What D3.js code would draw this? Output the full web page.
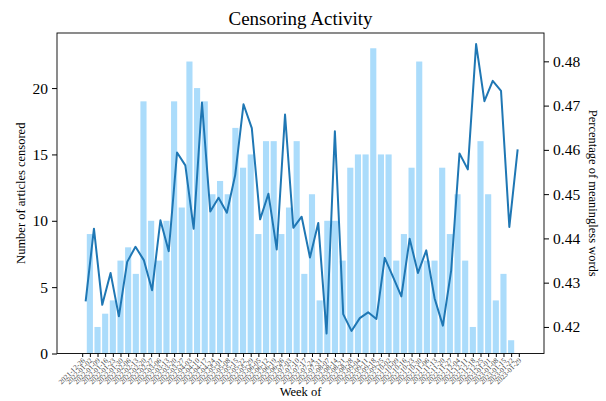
<!DOCTYPE html>
<html>
<head>
<meta charset="utf-8">
<script src="https://cdn.jsdelivr.net/npm/d3@7"></script>
<style>
  html, body { margin: 0; padding: 0; background: #fff; }
  svg { display: block; font-family: "Liberation Serif", "Times New Roman", serif; }
</style>
</head>
<body>
<svg id="chart" width="606" height="401"></svg>
<script>
// ---- data ----
const weeks = [
  "2021-12-26","2022-01-02","2022-01-09","2022-01-16","2022-01-23","2022-01-30",
  "2022-02-06","2022-02-13","2022-02-20","2022-02-27","2022-03-06","2022-03-13",
  "2022-03-20","2022-03-27","2022-04-03","2022-04-10","2022-04-17","2022-04-24",
  "2022-05-01","2022-05-08","2022-05-15","2022-05-22","2022-05-29","2022-06-05",
  "2022-06-12","2022-06-19","2022-06-26","2022-07-03","2022-07-10","2022-07-17",
  "2022-07-24","2022-07-31","2022-08-07","2022-08-14","2022-08-21","2022-08-28",
  "2022-09-04","2022-09-11","2022-09-18","2022-09-25","2022-10-02","2022-10-09",
  "2022-10-16","2022-10-23","2022-10-30","2022-11-06","2022-11-13","2022-11-20",
  "2022-11-27","2022-12-04","2022-12-11","2022-12-18","2022-12-25","2023-01-01",
  "2023-01-08","2023-01-15","2023-01-22","2023-01-29"
];
const censoredCounts = [
  0, 9, 2, 3, 4, 7, 8, 6, 19, 10, 7, 10, 19, 11, 22, 20, 19, 12, 13, 12,
  17, 14, 15, 9, 16, 16, 9, 11, 16, 6, 12, 4, 10, 10, 7, 14, 15, 15, 23, 15,
  15, 7, 9, 14, 22, 7, 7, 14, 9, 12, 7, 2, 16, 12, 4, 6, 1, 0
];
const meaninglessShare = [
  0.4258, 0.4422, 0.4250, 0.4322, 0.4224, 0.4347, 0.4381, 0.4351, 0.4283, 0.4441,
  0.4371, 0.4594, 0.4565, 0.4422, 0.4707, 0.4461, 0.4492, 0.4458, 0.4543, 0.4703,
  0.4649, 0.4443, 0.4501, 0.4375, 0.4680, 0.4424, 0.4449, 0.4357, 0.4435, 0.4185,
  0.4642, 0.4229, 0.4191, 0.4220, 0.4233, 0.4218, 0.4356, 0.4313, 0.4269, 0.4399,
  0.4322, 0.4373, 0.4265, 0.4203, 0.4328, 0.4592, 0.4556, 0.4839, 0.4710, 0.4756,
  0.4733, 0.4426, 0.4601
];
const leftTicks = [0, 5, 10, 15, 20];
const rightTicks = [0.42, 0.43, 0.44, 0.45, 0.46, 0.47, 0.48];

// ---- layout ----
const W = 606, H = 401;
const plot = { left: 57, right: 544, top: 33, bottom: 353.5 };
const svg = d3.select("#chart");

const n = weeks.length;
const pad = (n - 1 + 0.8) * 0.05;
const x = d3.scaleLinear()
  .domain([-0.4 - pad, n - 1 + 0.4 + pad])
  .range([plot.left, plot.right]);
const barW = x(0.8) - x(0);

const yL = d3.scaleLinear().domain([0, 23 * 1.05]).range([plot.bottom, plot.top]);
const yR = d3.scaleLinear().domain([0.4140, 0.4864]).range([plot.bottom, plot.top]);

const xLine = d3.scaleLinear()
  .domain([0, meaninglessShare.length - 1])
  .range([x(0.45), x(56.85)]);

// bars
svg.append("g").selectAll("rect")
  .data(censoredCounts)
  .join("rect")
  .attr("x", (d, i) => x(i) - barW / 2)
  .attr("width", barW)
  .attr("y", d => yL(d))
  .attr("height", d => yL(0) - yL(d))
  .attr("fill", "#abdcfb");

// line
svg.append("path")
  .datum(meaninglessShare)
  .attr("fill", "none")
  .attr("stroke", "#1f77b4")
  .attr("stroke-width", 2)
  .attr("stroke-linejoin", "round")
  .attr("d", d3.line().x((d, i) => xLine(i)).y(d => yR(d)));

// frame
svg.append("rect")
  .attr("x", plot.left).attr("y", plot.top)
  .attr("width", plot.right - plot.left).attr("height", plot.bottom - plot.top)
  .attr("fill", "none").attr("stroke", "#000").attr("stroke-width", 0.9);

// left axis
const gL = svg.append("g").attr("transform", `translate(${plot.left},0)`)
  .call(d3.axisLeft(yL).tickValues(leftTicks).tickSize(5).tickPadding(4).tickFormat(d3.format("d")));
gL.select(".domain").remove();
gL.selectAll("text").attr("font-size", 15.5).attr("font-family", "Liberation Serif").attr("fill", "#000");
gL.selectAll("line").attr("stroke", "#000");

// right axis
const gR = svg.append("g").attr("transform", `translate(${plot.right},0)`)
  .call(d3.axisRight(yR).tickValues(rightTicks).tickSize(5).tickPadding(4).tickFormat(d3.format(".2f")));
gR.select(".domain").remove();
gR.selectAll("text").attr("font-size", 15.5).attr("font-family", "Liberation Serif").attr("fill", "#000");
gR.selectAll("line").attr("stroke", "#000");

// bottom axis
const gB = svg.append("g").attr("transform", `translate(0,${plot.bottom})`)
  .call(d3.axisBottom(x).tickValues(d3.range(n)).tickSize(3.5).tickPadding(1)
    .tickFormat(i => weeks[i]));
gB.select(".domain").remove();
gB.selectAll("line").attr("stroke", "#000");
gB.selectAll("text")
  .attr("font-size", 7.2)
  .attr("font-family", "Liberation Serif")
  .attr("fill", "#444")
  .attr("text-anchor", "end")
  .attr("dy", "0.3em")
  .attr("transform", "translate(1,6) rotate(-45)")
  .attr("y", 0).attr("x", 0);

// titles
svg.append("text")
  .attr("x", (plot.left + plot.right) / 2).attr("y", 25)
  .attr("text-anchor", "middle").attr("font-size", 19)
  .text("Censoring Activity");

svg.append("text")
  .attr("x", (plot.left + plot.right) / 2).attr("y", 396)
  .attr("text-anchor", "middle").attr("font-size", 12.5)
  .text("Week of");

svg.append("text")
  .attr("transform", `translate(25,${(plot.top + plot.bottom) / 2}) rotate(-90)`)
  .attr("text-anchor", "middle").attr("font-size", 12.5)
  .text("Number of articles censored");

svg.append("text")
  .attr("transform", `translate(589,${(plot.top + plot.bottom) / 2}) rotate(90)`)
  .attr("text-anchor", "middle").attr("font-size", 12.5)
  .text("Percentage of meaningless words");
</script>
</body>
</html>
